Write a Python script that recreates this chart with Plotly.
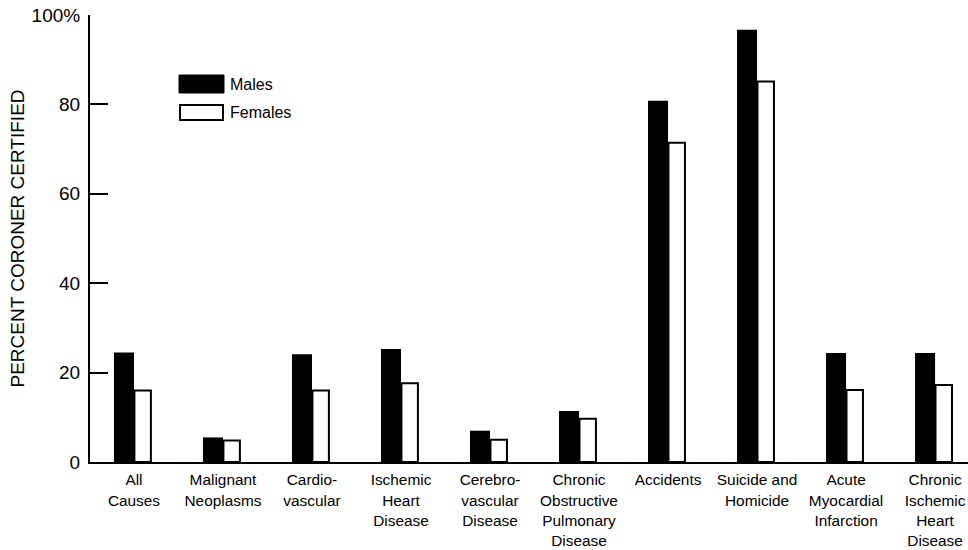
import plotly.graph_objects as go

# ---- data ----
categories = [
    "All<br>Causes",
    "Malignant<br>Neoplasms",
    "Cardio-<br>vascular",
    "Ischemic<br>Heart<br>Disease",
    "Cerebro-<br>vascular<br>Disease",
    "Chronic<br>Obstructive<br>Pulmonary<br>Disease",
    "Accidents",
    "Suicide and<br>Homicide",
    "Acute<br>Myocardial<br>Infarction",
    "Chronic<br>Ischemic<br>Heart<br>Disease",
]
males = [24.5, 5.5, 24.1, 25.3, 7.0, 11.4, 80.8, 96.7, 24.4, 24.4]
females = [16.0, 4.8, 16.0, 17.6, 5.0, 9.7, 71.4, 85.1, 16.1, 17.2]
y_ticks = [0, 20, 40, 60, 80, 100]
y_tick_text = ["0", "20", "40", "60", "80", "100%"]
series_names = ["Males", "Females"]

# ---- layout constants (pixels) ----
W, H = 968, 550
ML, MR, MT, MB = 90, 0, 15, 88
PW, PH = W - ML - MR, H - MT - MB
FONT = "Liberation Sans, Arial, Helvetica, sans-serif"


def px_x(x):
    return (x - ML) / PW


def px_y(y):
    return (H - MB - y) / PH


fig = go.Figure()
fig.add_trace(go.Bar(
    x=categories, y=males, name=series_names[0],
    marker=dict(color="black", line=dict(color="black", width=0)),
    offset=-0.225, width=0.225, showlegend=False,
))
fig.add_trace(go.Bar(
    x=categories, y=females, name=series_names[1],
    marker=dict(color="white", line=dict(color="black", width=2)),
    offset=0.005, width=0.185, showlegend=False,
))

# legend drawn as swatches + text
fig.add_shape(type="rect", xref="paper", yref="paper",
              x0=px_x(179), x1=px_x(224), y0=px_y(93), y1=px_y(75),
              fillcolor="black", line=dict(color="black", width=1))
fig.add_shape(type="rect", xref="paper", yref="paper",
              x0=px_x(180), x1=px_x(223), y0=px_y(120), y1=px_y(105),
              fillcolor="white", line=dict(color="black", width=2))
fig.add_annotation(xref="paper", yref="paper", x=px_x(228), y=px_y(84),
                   text=series_names[0], showarrow=False, xanchor="left", yanchor="middle",
                   font=dict(family=FONT, size=16, color="black"))
fig.add_annotation(xref="paper", yref="paper", x=px_x(228), y=px_y(112.5),
                   text=series_names[1], showarrow=False, xanchor="left", yanchor="middle",
                   font=dict(family=FONT, size=16, color="black"))

fig.update_layout(
    width=W, height=H,
    margin=dict(l=ML, r=MR, t=MT, b=MB, autoexpand=False),
    paper_bgcolor="white", plot_bgcolor="white",
    barmode="overlay",
    font=dict(family=FONT, color="black"),
    xaxis=dict(
        type="category", range=[-0.494, 9.37],
        showline=True, linecolor="black", linewidth=2,
        showgrid=False, zeroline=False,
        ticks="outside", ticklen=0, tickangle=0, ticklabelstandoff=3,
        tickfont=dict(family=FONT, size=15.4, color="black"),
        fixedrange=True,
    ),
    yaxis=dict(
        range=[0, 100], tickvals=y_ticks, ticktext=y_tick_text,
        showline=True, linecolor="black", linewidth=2,
        showgrid=False, zeroline=False,
        ticks="inside", ticklen=18, tickwidth=1.5, tickcolor="black",
        ticklabelstandoff=4,
        tickfont=dict(family=FONT, size=19, color="black"),
        title=dict(text="PERCENT CORONER CERTIFIED",
                   font=dict(family=FONT, size=19, color="black"), standoff=2),
        automargin=False, fixedrange=True,
    ),
)

fig.write_html("out.html", config={"displayModeBar": False},
               post_script="document.body.style.margin='0';document.body.style.overflow='hidden';")
